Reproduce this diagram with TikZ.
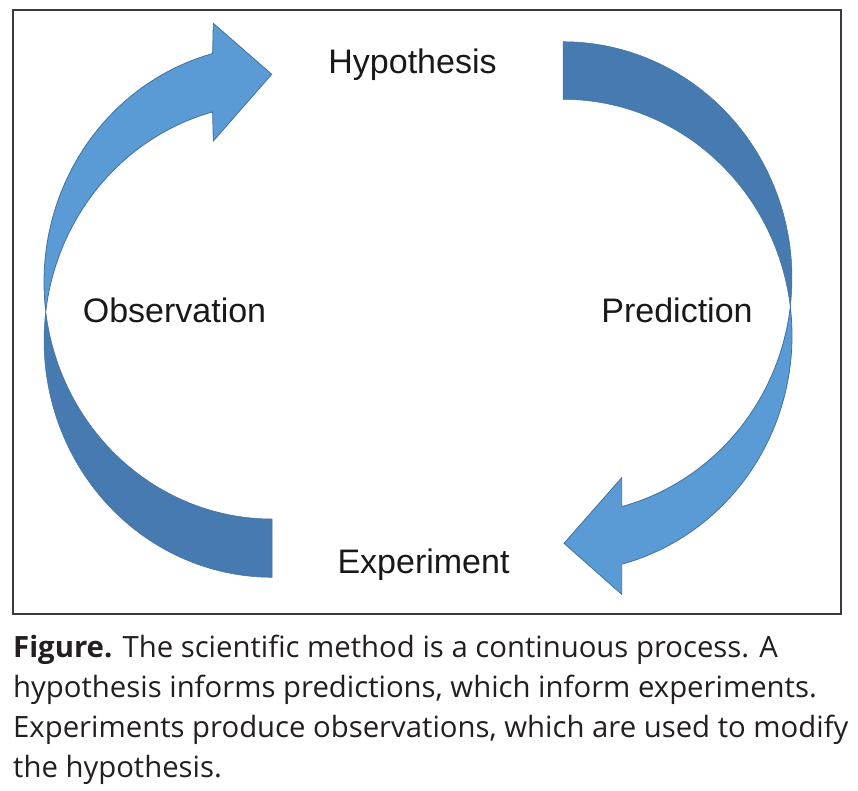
\documentclass[tikz,border=0pt]{standalone}
\usepackage{fontspec}
\setmainfont{Liberation Sans}
\newfontfamily\capfont{Open Sans}
\definecolor{arrowlight}{HTML}{5B9BD5}
\definecolor{arrowdark}{HTML}{477AB0}
\definecolor{arrowline}{HTML}{41719C}
\definecolor{framegray}{HTML}{3A3A3A}
\definecolor{captext}{HTML}{231F20}
\begin{document}
\begin{tikzpicture}[x=1pt,y=-1pt,
  lab/.style={font=\fontsize{34}{40}\selectfont, text=black!90, inner sep=0pt, anchor=base},
  captionline/.style={font=\capfont\fontsize{29.3}{40}\selectfont, text=captext, inner sep=0pt, anchor=base west},
  arrowfront/.style={fill=arrowlight, draw=arrowline, line width=0.8pt, line join=miter},
  arrowback/.style={fill=arrowdark, draw=arrowline, line width=0.5pt},
  arcplot/.style={samples=60, variable=\t}]
\useasboundingbox (0,0) rectangle (858,790);
\fill[white] (0,0) rectangle (858,790);
\draw[framegray, line width=1.5pt] (13,10) rectangle (841,614);

% left arrow (Observation -> Hypothesis)
\path[arrowback] plot[arcplot, domain=187.07:90] ({272+228*cos(\t)},{340.5+236.8*sin(\t)})
  -- plot[arcplot, domain=90:172.93] ({272+228*cos(\t)},{282.2+236.8*sin(\t)}) -- cycle;
\path[arrowfront] plot[arcplot, domain=254.9:172.93] ({272+228*cos(\t)},{282.2+236.8*sin(\t)})
  -- plot[arcplot, domain=187.07:254.9] ({272+228*cos(\t)},{340.5+236.8*sin(\t)})
  -- (213.3,141) -- (271.7,74.3) -- (213.3,23.3) -- cycle;

% right arrow (Hypothesis -> Prediction -> Experiment)
\path[arrowback] plot[arcplot, domain=-90:7] ({563+229*cos(\t)},{278.1+236.4*sin(\t)})
  -- plot[arcplot, domain=-7:-90] ({563+229*cos(\t)},{335.7+236.4*sin(\t)}) -- cycle;
\path[arrowfront] plot[arcplot, domain=-7:75.15] ({563+229*cos(\t)},{335.7+236.4*sin(\t)})
  -- (621.7,594.3) -- (564,543.3) -- (621.7,477.7)
  -- plot[arcplot, domain=75.15:7] ({563+229*cos(\t)},{278.1+236.4*sin(\t)}) -- cycle;

% labels
\node[lab] (hyp) at (412.5,73.5) {Hypothesis};
\node[lab] (obs) at (174.5,322) {Observation};
\node[lab] (pred) at (677,322.5) {Prediction};
\node[lab] (exp) at (423.5,573) {Experiment};

% caption
\node[captionline] (c1) at (13,657) {\textbf{Figure.} The scientific method is a continuous process. A};
\node[captionline] (c2) at (13,697.5) {hypothesis informs predictions, which inform experiments.};
\node[captionline] (c3) at (13,737) {Experiments produce observations, which are used to modify};
\node[captionline] (c4) at (13,777) {the hypothesis.};
\end{tikzpicture}
\end{document}
